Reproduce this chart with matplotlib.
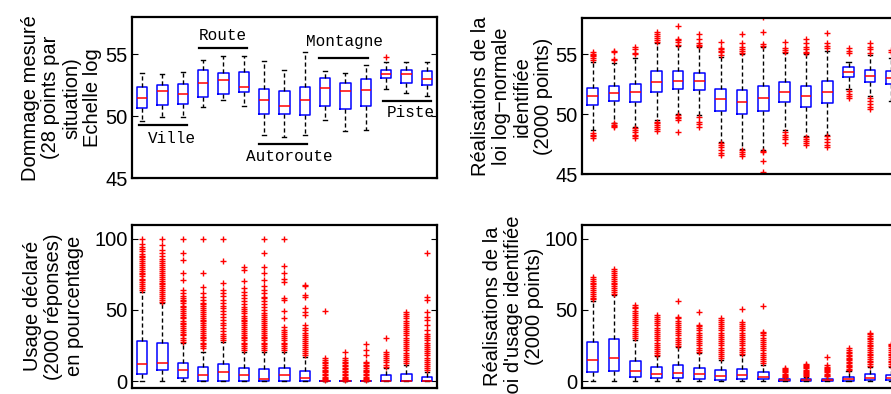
import matplotlib
matplotlib.use('Agg')
import matplotlib.pyplot as plt

plt.rcParams['font.family'] = ['Liberation Sans', 'DejaVu Sans']
plt.rcParams['font.size'] = 14.5

# ---- top left: measured damage, 28 points per situation (log scale)
tl_med = [51.49, 52.0, 51.78, 52.68, 52.93, 52.38, 51.33, 50.86, 51.35, 52.3, 52.05, 52.11, 53.44, 53.38, 53.03]
tl_q1 = [50.68, 50.94, 50.99, 51.57, 51.78, 51.92, 50.14, 50.14, 50.11, 50.86, 50.6, 50.86, 53.08, 52.65, 52.54]
tl_q3 = [52.38, 52.56, 52.57, 53.73, 53.52, 53.61, 52.22, 52.05, 52.35, 53.08, 52.7, 53.0, 53.76, 53.73, 53.68]
tl_lo = [49.6, 49.9, 49.9, 50.73, 51.35, 50.79, 48.51, 48.3, 48.51, 49.73, 48.84, 48.92, 52.22, 51.9, 51.62]
tl_hi = [53.52, 53.43, 53.55, 54.54, 54.86, 54.86, 54.46, 53.76, 55.19, 53.68, 53.46, 54.14, 54.41, 54.41, 54.41]
tl_fl = [[], [], [], [], [], [], [], [], [], [], [], [], [54.82], [], []]

groups = ['Ville', 'Route', 'Autoroute', 'Montagne', 'Piste']
group_tx = [2.45, 4.97, 8.24, 10.93, 14.22]
group_ty = [48.17, 56.49, 46.76, 56.08, 50.27]
group_lx0 = [0.86, 3.78, 6.76, 9.71, 12.83]
group_lx1 = [3.19, 6.14, 9.12, 12.1, 15.19]
group_ly = [49.25, 55.5, 47.79, 54.7, 51.25]

# ---- top right: identified log-normal law, 2000 points
tr_med = [51.5, 51.75, 51.83, 52.69, 52.8, 52.74, 51.25, 51.05, 51.38, 51.88, 51.52, 51.83, 53.49, 53.18, 53.04]
tr_q1 = [50.77, 51.1, 51.05, 51.85, 52.08, 52.0, 50.3, 50.0, 50.27, 51.02, 50.63, 50.91, 53.07, 52.69, 52.52]
tr_q3 = [52.21, 52.38, 52.49, 53.57, 53.57, 53.46, 52.1, 52.02, 52.38, 52.71, 52.38, 52.77, 53.9, 53.68, 53.6]
tr_lo = [48.7, 49.3, 48.92, 49.5, 50.0, 49.9, 47.7, 47.1, 47.04, 48.7, 48.2, 48.3, 52.1, 51.5, 51.13]
tr_hi = [54.37, 54.3, 54.65, 55.9, 55.68, 55.6, 54.8, 55.0, 55.6, 55.1, 55.0, 55.3, 54.37, 54.9, 54.7]
tr_fl = [
    [55.2, 55.05, 54.95, 54.85, 54.7, 54.55, 48.45, 48.3, 48.2, 48.05],
    [55.3, 55.2, 54.6, 54.5, 49.25, 49.1, 49.0, 48.9],
    [55.57, 55.4, 55.1, 55.0, 48.84, 48.7, 48.5, 48.3, 48.15, 48.0],
    [56.87, 56.7, 56.5, 56.35, 56.2, 56.05, 49.39, 49.25, 49.1, 48.95, 48.8, 48.6],
    [57.34, 56.3, 56.15, 56.0, 55.8, 49.94, 49.8, 49.7, 49.55, 48.55],
    [56.67, 56.3, 55.9, 55.8, 55.7, 49.8, 49.35, 49.2, 48.92],
    [56.03, 55.5, 55.4, 55.3, 55.2, 54.95, 47.6, 47.45, 47.3, 47.0, 46.8, 46.62],
    [56.65, 55.9, 55.6, 55.4, 55.25, 55.07, 47.03, 46.85, 46.7, 46.55],
    [58.06, 56.81, 55.82, 55.65, 46.97, 46.9, 46.12, 45.23],
    [55.98, 55.5, 55.35, 55.2, 48.55, 48.3, 48.1, 47.9, 47.64],
    [56.23, 55.9, 55.6, 55.4, 55.2, 55.07, 48.14, 47.95, 47.8, 47.6, 47.45],
    [56.79, 55.9, 55.7, 55.5, 48.2, 47.95, 47.7, 47.45, 47.26],
    [55.49, 55.3, 55.07, 51.94, 51.7, 51.5, 51.33],
    [55.95, 55.6, 55.4, 55.12, 51.33, 51.1, 50.85, 50.6, 50.44],
    [55.35, 55.2],
]

# ---- bottom left: declared usage (2000 answers), percent
bl_med = [11.7, 12.9, 7.7, 4.0, 6.1, 4.4, 1.4, 4.2, 1.9, 0, 0, 0, 0, 0, 0]
bl_q1 = [4.9, 7.7, 1.9, 0, 0, 0, 0, 0, 0, 0, 0, 0, 0, 0, 0]
bl_q3 = [28.3, 26.5, 12.4, 9.6, 11.7, 8.9, 8.7, 8.9, 7.3, 0, 0, 0, 4.2, 4.9, 3.0]
bl_lo = [0] * 15
bl_hi = [62.8, 54.8, 26.5, 20.6, 27.6, 20.6, 20.6, 20.6, 17.1, 0, 0, 0, 9, 11.5, 6.5]
bl_fl = [
    [64, 65.5, 67, 68, 69.5, 71, 72, 73.5, 75, 76, 77.5, 79, 80, 81.5, 83, 84, 85.5, 87, 88, 89.5, 91, 92.5, 94, 96, 100],
    [55.7, 57, 58.5, 60, 61, 62.5, 64, 65, 66.5, 68, 69, 70.5, 72, 73, 74.5, 76, 77, 78.5, 80, 81.5, 83, 84.5, 86, 88, 90, 92, 95.6, 100],
    [27.6, 29, 30.5, 32, 33, 34.5, 36, 37, 38.5, 40, 41, 42.5, 44, 45, 46.5, 48, 49, 50.5, 52, 53, 54.5, 56, 57, 58.5, 60, 62, 64, 71, 76, 85, 90, 100],
    [23, 24.5, 26, 27, 28.5, 30, 31, 32.5, 34, 35, 36.5, 38, 39, 40.5, 42, 43, 44.5, 46, 47, 48.5, 50, 51, 52.5, 54, 55, 57, 59, 61.6, 66, 76, 100],
    [28.8, 30, 31.5, 33, 35, 37, 39, 41, 43, 45, 47, 49, 51, 53, 55, 57, 59.5, 62, 64, 68.7, 84, 100],
    [21.8, 23, 24.5, 26, 27, 28.5, 30, 31, 32.5, 34, 35, 36.5, 38, 39, 40.5, 42, 43, 44.5, 46, 47.5, 49, 50.5, 52, 54, 56, 58, 60.5, 62.8, 65, 70, 78, 80.3],
    [21.8, 23, 24.5, 26, 27, 28.5, 30, 31, 32.5, 34, 35, 36.5, 38, 39, 40.5, 42, 43.5, 45, 46.5, 48, 50, 52, 54, 56, 58, 59.2, 61.6, 64, 67, 71, 75.7, 80.3, 90.2, 100],
    [21.8, 23, 24.5, 26, 27, 28.5, 30, 31.5, 33, 34.5, 36, 38.2, 44, 49.4, 56.9, 58, 69.8, 72, 75.7, 81, 100],
    [18.3, 19.5, 21, 22.5, 24, 25, 26.5, 28, 29.5, 31, 32.5, 34, 35.5, 37, 39.4, 46.4, 48.7, 51.1, 59, 60.4, 66.7, 67.5],
    [0.5, 1.2, 2, 3.1, 4, 5.2, 6, 7.1, 8, 9.2, 10, 11.3, 12.4, 13.5, 14.6, 16.4, 49.4],
    [0.5, 1.3, 2.2, 3, 4.1, 5, 6.2, 7, 8.1, 9, 10.2, 11.1, 12.3, 13.4, 14.5, 16, 20.6],
    [0.5, 1.2, 2.1, 3, 4.2, 5.1, 6, 7.2, 8, 9.1, 10.3, 11.2, 12.4, 13.6, 18.3, 21.8, 26],
    [10, 11.5, 13, 14.5, 16, 17.5, 19, 20.6, 30.4],
    [12.4, 14, 15.5, 17, 18.5, 20, 21.5, 23, 24.5, 26, 27.5, 29, 30.5, 32, 33.5, 35, 36.5, 38, 39.5, 41, 42.5, 44, 45.5, 47, 48.7],
    [7.7, 9, 10.5, 12, 13.5, 15, 16.5, 18, 19.5, 21, 22.5, 24, 25.5, 27, 28.5, 30, 31.5, 33, 35.8, 39.4, 42.9, 45, 48.7, 56.9, 59.2, 90.2],
]

# ---- bottom right: identified usage law, 2000 points
br_med = [15.0, 16.4, 7.3, 4.9, 5.6, 4.7, 3.8, 4.2, 3.0, 0.5, 0.5, 0.5, 1.4, 2.1, 2.1]
br_q1 = [6.6, 7.0, 3.0, 1.9, 1.9, 1.2, 0.9, 1.2, 1.2, 0, 0, 0, 0, 0.5, 0.5]
br_q3 = [27.2, 29.4, 13.9, 9.6, 11.5, 9.4, 7.5, 8.7, 6.1, 1.2, 1.3, 1.5, 3.0, 4.7, 4.2]
br_lo = [0] * 15
br_hi = [56.5, 60.5, 29.0, 17.5, 23.8, 19.5, 15.0, 18.0, 11.5, 2.6, 3.0, 3.3, 7.2, 10.0, 10.0]
br_fl = [
    [57.5, 58.5, 60, 61, 62.5, 64, 65, 66.5, 68, 69, 70.5, 72, 73.3],
    [61.3, 62.5, 64, 65, 66.5, 68, 69, 70.5, 72, 73, 74.5, 76, 77, 78.9],
    [30, 31.5, 33, 34.5, 36, 37.5, 39, 40.5, 42, 43.5, 45, 46.5, 48, 49.5, 51, 52.3, 53.5],
    [18.3, 19.5, 21, 22.5, 24, 25.5, 27, 28.5, 30, 31.5, 33, 34.5, 36, 37.5, 39, 40.5, 42, 43.5, 45, 46.5],
    [24.6, 26, 27.5, 29, 30.5, 32, 33.5, 35, 36.5, 38, 39.5, 41, 42.5, 44, 45.3, 56.3],
    [20.6, 22, 23.5, 25, 26.5, 28, 29.5, 31, 32.5, 34, 35.5, 37, 38.3, 39.4, 48.8],
    [16, 17.5, 19, 20.5, 22, 23.5, 25, 26.5, 28, 29.5, 31, 32.5, 34, 35.5, 37, 38.5, 40, 41.5, 43, 44.6],
    [19, 20.5, 22, 23.5, 25, 26.5, 28, 29.5, 31, 32.5, 34, 35.5, 37, 38.5, 40, 41.7, 50.3],
    [12.4, 14, 15.5, 17, 18.5, 20, 21.5, 23, 24.5, 26, 27.5, 29, 30.5, 32, 33.5, 34.7, 52.8],
    [3, 3.8, 4.5, 5.2, 6, 6.7, 7.5, 8.2, 8.9],
    [3.2, 4, 4.8, 5.6, 6.4, 7.2, 8, 8.8, 9.6, 10.4, 11.2, 12],
    [3.5, 4.3, 5.1, 6, 6.8, 7.6, 8.4, 9.2, 10, 11.3, 17.1],
    [7.6, 8.5, 9.5, 10.5, 11.5, 12.5, 13.5, 14.5, 15.5, 16.5, 17.5, 18.5, 19.5, 20.5, 21.8, 23],
    [10.5, 11.8, 13, 14.3, 15.5, 16.8, 18, 19.3, 20.5, 21.8, 23, 24.3, 25.5, 26.8, 28, 29.3, 30.5, 31.8, 33, 34],
    [10.5, 11.8, 13, 14.3, 15.5, 16.8, 18, 19.3, 20.5, 21.8, 23, 24.3, 25.5, 26],
]


def draw(ax, med, q1, q3, lo, hi, fl, ylim, yticks, ylabel, labx):
    stats = []
    for i in range(len(med)):
        stats.append(dict(med=med[i], q1=q1[i], q3=q3[i], whislo=lo[i],
                          whishi=hi[i], fliers=fl[i]))
    ax.bxp(stats, widths=0.5, capwidths=0.2,
           boxprops=dict(color='b', linewidth=1.1),
           medianprops=dict(color='r', linewidth=1.1),
           whiskerprops=dict(color='k', linestyle=(0, (3, 2)), linewidth=1),
           capprops=dict(color='k', linewidth=1),
           flierprops=dict(marker='+', markeredgecolor='r', markersize=5,
                           markeredgewidth=1, linestyle='none'))
    ax.set_xlim(0.5, 15.5)
    ax.set_ylim(*ylim)
    ax.set_xticks([])
    ax.set_yticks(yticks)
    ax.tick_params(axis='y', direction='in', left=True, right=True,
                   length=4, pad=3, labelsize=14.5)
    for s in ax.spines.values():
        s.set_linewidth(1.6)
    ax.set_ylabel(ylabel, fontsize=14.5, linespacing=1.12)
    ax.yaxis.set_label_coords(labx, 0.5)


fig = plt.figure(figsize=(8.91, 3.94), dpi=100)
ax_tl = fig.add_axes([0.1481, 0.5482, 0.3423, 0.4078])
ax_tr = fig.add_axes([0.6532, 0.5575, 0.3591, 0.3965])
ax_bl = fig.add_axes([0.1481, 0.0160, 0.3423, 0.4130])
ax_br = fig.add_axes([0.6532, 0.0160, 0.3591, 0.4130])

draw(ax_tl, tl_med, tl_q1, tl_q3, tl_lo, tl_hi, tl_fl, (45, 58), [45, 50, 55],
     'Dommage mesuré\n(28 points par\nsituation)\nEchelle log', -0.098)
draw(ax_tr, tr_med, tr_q1, tr_q3, tr_lo, tr_hi, tr_fl, (45, 58), [45, 50, 55],
     'Réalisations de la\nloi log\u2212normale\nidentifiée\n(2000 points)', -0.091)
draw(ax_bl, bl_med, bl_q1, bl_q3, bl_lo, bl_hi, bl_fl, (-4.7, 109.6), [0, 50, 100],
     'Usage déclaré\n(2000 réponses)\nen pourcentage', -0.157)
draw(ax_br, br_med, br_q1, br_q3, br_lo, br_hi, br_fl, (-4.7, 109.6), [0, 50, 100],
     "Réalisations de la\nloi d'usage identifiée\n(2000 points)", -0.119)

for name, tx, ty, x0, x1, ly in zip(groups, group_tx, group_ty, group_lx0, group_lx1, group_ly):
    ax_tl.text(tx, ty, name, ha='center', va='center',
               family=['Liberation Mono', 'DejaVu Sans Mono'], fontsize=11.5)
    ax_tl.plot([x0, x1], [ly, ly], color='k', linewidth=1.6)

fig.savefig('out.png', dpi=100)
